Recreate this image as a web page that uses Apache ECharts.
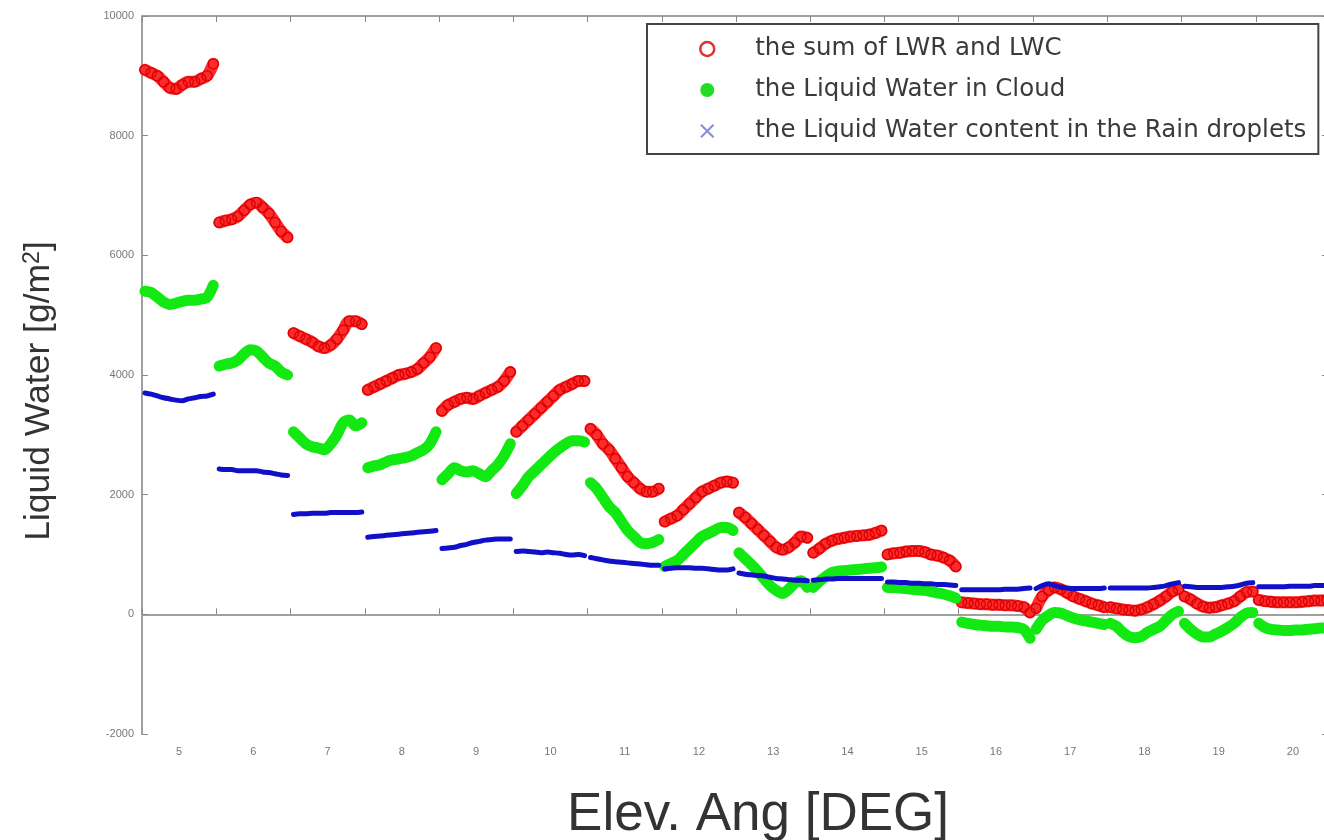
<!DOCTYPE html>
<html>
<head>
<meta charset="utf-8">
<script src="https://cdn.jsdelivr.net/npm/echarts@6/dist/echarts.min.js"></script>
<style>
html,body{margin:0;padding:0;background:#fff;}
#chart{width:1324px;height:840px;}
</style>
</head>
<body>
<div id="chart"></div>
<script>
// Elevation angle groups (x axis categories / tick labels)
const angles = [5, 6, 7, 8, 9, 10, 11, 12, 13, 14, 15, 16, 17, 18, 19, 20];
const yTicks = [-2000, 0, 2000, 4000, 6000, 8000, 10000];

// the sum of LWR and LWC (12 samples across each elevation group)
const lwSum = [
  [9100, 9050, 9000, 8900, 8800, 8780, 8850, 8900, 8900, 8950, 9000, 9200],
  [6550, 6580, 6600, 6650, 6750, 6850, 6880, 6800, 6700, 6550, 6400, 6300],
  [4700, 4650, 4600, 4550, 4480, 4450, 4500, 4600, 4750, 4900, 4900, 4850],
  [3750, 3800, 3850, 3900, 3950, 4000, 4020, 4050, 4100, 4200, 4300, 4450],
  [3400, 3500, 3550, 3600, 3620, 3600, 3650, 3700, 3750, 3800, 3900, 4050],
  [3050, 3150, 3250, 3350, 3450, 3550, 3650, 3750, 3800, 3850, 3900, 3900],
  [3100, 3000, 2850, 2750, 2600, 2450, 2300, 2200, 2100, 2050, 2050, 2100],
  [1550, 1600, 1650, 1750, 1850, 1950, 2050, 2100, 2150, 2200, 2220, 2200],
  [1700, 1620, 1520, 1420, 1320, 1220, 1120, 1080, 1120, 1200, 1300, 1280],
  [1030, 1100, 1180, 1230, 1260, 1280, 1300, 1310, 1320, 1330, 1360, 1400],
  [1000, 1020, 1030, 1050, 1060, 1060, 1040, 1000, 980, 950, 900, 800],
  [200, 190, 180, 170, 170, 160, 160, 150, 150, 140, 120, 30],
  [100, 300, 400, 450, 420, 360, 300, 260, 220, 180, 150, 120],
  [120, 100, 80, 70, 60, 80, 120, 170, 230, 300, 380, 420],
  [300, 250, 180, 130, 110, 120, 150, 180, 220, 300, 370, 380],
  [240, 220, 210, 200, 200, 200, 200, 210, 220, 230, 230, 240]
];

// the Liquid Water in Cloud
const lwCloud = [
  [5400, 5380, 5300, 5220, 5180, 5200, 5230, 5250, 5250, 5270, 5300, 5500],
  [4150, 4180, 4200, 4250, 4350, 4420, 4400, 4300, 4200, 4150, 4050, 4000],
  [3050, 2950, 2850, 2800, 2780, 2750, 2850, 3000, 3200, 3250, 3150, 3200],
  [2450, 2480, 2500, 2550, 2580, 2600, 2620, 2650, 2700, 2750, 2850, 3050],
  [2250, 2350, 2450, 2400, 2380, 2400, 2350, 2300, 2400, 2500, 2650, 2850],
  [2020, 2150, 2300, 2400, 2500, 2600, 2700, 2780, 2850, 2900, 2900, 2880],
  [2200, 2100, 1950, 1800, 1700, 1550, 1400, 1300, 1200, 1180, 1200, 1250],
  [800, 850, 900, 1000, 1100, 1200, 1300, 1350, 1400, 1450, 1450, 1400],
  [1030, 930, 830, 720, 600, 480, 400, 350, 420, 520, 560, 450],
  [450, 550, 630, 700, 720, 730, 740, 750, 760, 770, 780, 790],
  [450, 450, 440, 430, 420, 410, 400, 380, 360, 340, 310, 270],
  [-130, -150, -170, -180, -190, -200, -200, -210, -210, -220, -250, -400],
  [-250, -100, -20, 30, 20, -20, -60, -90, -110, -130, -150, -170],
  [-150, -200, -300, -370, -390, -370, -300, -250, -200, -100, 0, 50],
  [-150, -250, -330, -380, -380, -330, -280, -220, -150, -50, 20, 30],
  [-150, -220, -250, -260, -270, -270, -260, -260, -250, -240, -230, -230]
];

// the Liquid Water content in the Rain droplets
const lwRain = [
  [3700, 3680, 3650, 3620, 3600, 3580, 3570, 3600, 3620, 3640, 3650, 3680],
  [2430, 2420, 2420, 2400, 2400, 2400, 2400, 2380, 2370, 2350, 2330, 2320],
  [1670, 1680, 1680, 1690, 1690, 1690, 1700, 1700, 1700, 1700, 1700, 1710],
  [1290, 1300, 1310, 1320, 1330, 1340, 1350, 1360, 1370, 1380, 1390, 1400],
  [1100, 1110, 1120, 1150, 1170, 1200, 1220, 1240, 1250, 1260, 1260, 1260],
  [1050, 1060, 1050, 1040, 1030, 1040, 1030, 1020, 1000, 990, 1000, 980],
  [950, 930, 910, 890, 880, 870, 860, 850, 840, 830, 820, 820],
  [760, 770, 780, 780, 780, 770, 770, 760, 750, 740, 740, 760],
  [690, 670, 660, 650, 640, 620, 600, 590, 580, 570, 570, 560],
  [570, 580, 590, 590, 600, 600, 600, 600, 600, 600, 600, 600],
  [540, 540, 530, 530, 520, 520, 510, 510, 500, 500, 490, 480],
  [410, 410, 410, 410, 410, 410, 410, 420, 420, 420, 430, 440],
  [430, 480, 510, 480, 450, 440, 430, 430, 430, 430, 430, 440],
  [440, 440, 440, 440, 440, 440, 440, 450, 460, 480, 510, 530],
  [470, 460, 450, 450, 450, 450, 450, 460, 470, 490, 520, 530],
  [460, 460, 460, 460, 460, 470, 470, 470, 470, 480, 480, 480]
];

const NAME_SUM = 'the sum of LWR and LWC';
const NAME_CLOUD = 'the Liquid Water in Cloud';
const NAME_RAIN = 'the Liquid Water content in the Rain droplets';

function groupData(angle, vals) {
  const n = vals.length;
  return vals.map((v, i) => [angle - 0.46 + i * 0.92 / (n - 1), v]);
}

const series = [];
function addSeries(name, table, style) {
  table.forEach((vals, gi) => {
    series.push(Object.assign({
      name: name,
      type: 'line',
      xAxisIndex: 0,
      yAxisIndex: 0,
      data: groupData(angles[gi], vals),
      smooth: 0.3,
      animation: false,
      silent: true,
      clip: true
    }, style));
  });
}

addSeries(NAME_SUM, lwSum, {
  symbol: 'circle', symbolSize: 10, showSymbol: true,
  itemStyle: { color: 'rgba(0,0,0,0)', borderColor: '#d80000', borderWidth: 1.3 },
  lineStyle: { color: '#ff2a2a', width: 12, cap: 'round', join: 'round' },
  z: 2
});
addSeries(NAME_CLOUD, lwCloud, {
  symbol: 'none',
  lineStyle: { color: '#12e812', width: 11, cap: 'round', join: 'round' },
  z: 3
});
addSeries(NAME_RAIN, lwRain, {
  symbol: 'none',
  lineStyle: { color: '#1010c8', width: 5, cap: 'round', join: 'round' },
  z: 4
});

const axisGray = '#a0a0a0';
const baseFont = 'Liberation Sans, Arial, sans-serif';
const chart = echarts.init(document.getElementById('chart'), null, { renderer: 'canvas' });
chart.setOption({
  backgroundColor: '#ffffff',
  animation: false,
  grid: { left: 142, top: 16, right: -6, bottom: 106, containLabel: false, outerBoundsMode: 'none' },
  legend: {
    orient: 'vertical',
    left: 647, top: 24,
    padding: [11, 12, 9, 52],
    itemGap: 13,
    itemWidth: 14, itemHeight: 14,
    backgroundColor: '#ffffff',
    borderColor: '#444',
    borderWidth: 2,
    borderRadius: 0,
    selectedMode: false,
    textStyle: { fontFamily: 'DejaVu Sans, sans-serif', fontSize: 24.5, lineHeight: 28, color: '#3a3a3a', padding: [0, 0, 0, 36] },
    data: [
      { name: NAME_SUM, icon: 'circle', itemStyle: { color: '#ffffff', borderColor: '#e03030', borderWidth: 2.5 } },
      { name: NAME_CLOUD, icon: 'circle', itemStyle: { color: '#22dd22', borderWidth: 0 } },
      { name: NAME_RAIN, icon: 'path://M0,1L1,0L5,4L9,0L10,1L6,5L10,9L9,10L5,6L1,10L0,9L4,5Z', itemStyle: { color: '#8a8ad8', borderWidth: 0 } }
    ]
  },
  xAxis: [
    {
      type: 'value', min: 4.5, max: 20.5, show: false
    },
    {
      type: 'category', position: 'bottom', data: angles.map(String), boundaryGap: true,
      axisLine: { show: true, lineStyle: { color: axisGray, width: 2 } },
      axisTick: { show: true, inside: true, length: 6, lineStyle: { color: '#888', width: 1 } },
      axisLabel: { show: true, color: '#777', fontSize: 11, fontFamily: baseFont, margin: 12 },
      splitLine: { show: false },
      name: 'Elev. Ang [DEG]', nameLocation: 'middle', nameGap: 55,
      nameTextStyle: { fontSize: 53, color: '#333', fontFamily: baseFont, padding: [0, 0, 0, 44], verticalAlign: 'top' }
    },
    {
      type: 'category', position: 'top', data: angles.map(String), boundaryGap: true,
      axisLine: { show: true, lineStyle: { color: axisGray, width: 2 } },
      axisTick: { show: true, inside: true, length: 6, lineStyle: { color: '#888', width: 1 } },
      axisLabel: { show: false },
      splitLine: { show: false }
    }
  ],
  yAxis: [
    {
      type: 'value', min: yTicks[0], max: yTicks[yTicks.length - 1], interval: 2000,
      position: 'left',
      axisLine: { show: true, lineStyle: { color: axisGray, width: 2 } },
      axisTick: { show: true, inside: true, length: 6, lineStyle: { color: '#888' } },
      axisLabel: { color: '#777', fontSize: 11, fontFamily: baseFont, margin: 8, formatter: (v) => String(v) },
      splitLine: { show: false },
      name: '{a|Liquid Water [g/m}{s|2}{a|]}',
      nameLocation: 'middle', nameRotate: 90, nameGap: 84,
      nameTextStyle: {
        padding: [0, 32, 0, 0],
        rich: {
          a: { fontSize: 35.5, color: '#333', fontFamily: baseFont },
          s: { fontSize: 23, color: '#333', fontFamily: baseFont, verticalAlign: 'top', padding: [0, 0, 14, 0] }
        }
      }
    },
    {
      type: 'value', min: yTicks[0], max: yTicks[yTicks.length - 1], interval: 2000,
      position: 'right',
      axisLine: { show: true, lineStyle: { color: axisGray, width: 2 } },
      axisTick: { show: true, inside: true, length: 8, lineStyle: { color: '#888' } },
      axisLabel: { show: false },
      splitLine: { show: false }
    }
  ],
  series: series
});
</script>
</body>
</html>
